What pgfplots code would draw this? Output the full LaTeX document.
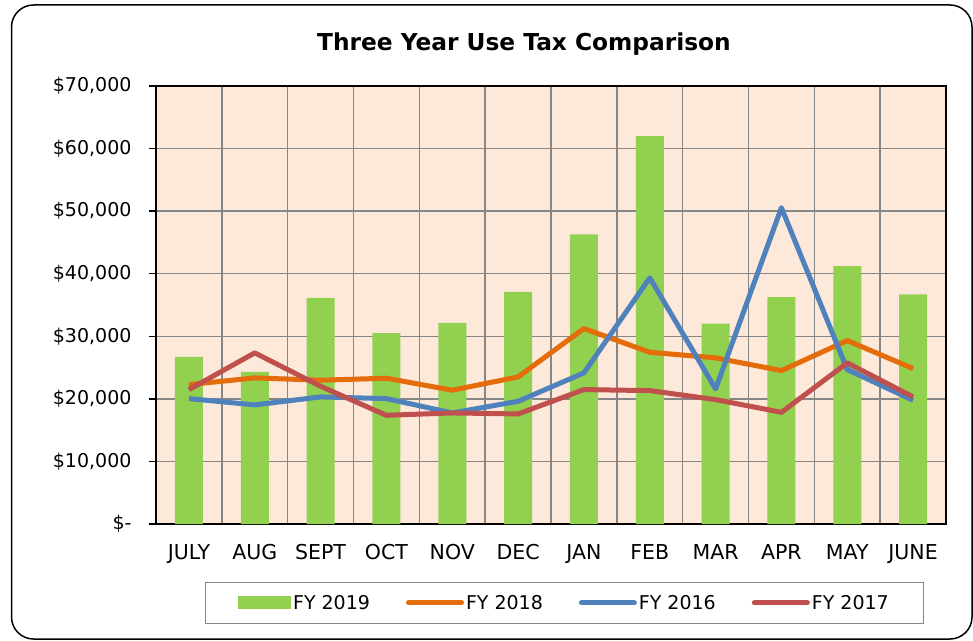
\documentclass[border=0pt]{standalone}
\usepackage{fontspec}
\setmainfont{DejaVu Sans}
\usepackage{pgfplots}
\pgfplotsset{compat=1.18}
\definecolor{bg}{HTML}{FDE9D9}
\definecolor{cgreen}{HTML}{92D050}
\definecolor{corange}{HTML}{E46C0A}
\definecolor{cblue}{HTML}{4F81BD}
\definecolor{cred}{HTML}{C0504D}
\definecolor{cgrid}{RGB}{134,134,134}
\begin{document}
\begin{tikzpicture}[x=1pt,y=1pt]
\path[use as bounding box] (0,0) rectangle (973,640);
\draw[line width=1.5pt, rounded corners=22pt] (11.5,1) rectangle (972,635);
\node[font=\fontsize{23.3}{26}\selectfont\bfseries] at (524,596) {Three Year Use Tax Comparison};
\begin{axis}[
  at={(156pt,116pt)}, anchor=south west,
  scale only axis, width=790pt, height=438pt,
  xmin=-0.5, xmax=11.5, ymin=0, ymax=70000,
  axis background/.style={fill=bg},
  axis line style={line width=2.5pt, black},
  tick pos=left, tick align=outside,
  xtick={0,...,11},
  xticklabels={JULY,AUG,SEPT,OCT,NOV,DEC,JAN,FEB,MAR,APR,MAY,JUNE},
  minor xtick={-0.5,0.5,...,11.5},
  xtick style={draw=none},
  minor tick length=7pt, major tick length=7pt,
  minor tick style={line width=1.5pt, black},
  ytick style={line width=1.5pt, black},
  ytick={0,10000,...,70000},
  yticklabels={{\$-\hspace{14pt}},{\$10,000},{\$20,000},{\$30,000},{\$40,000},{\$50,000},{\$60,000},{\$70,000}},
  scaled y ticks=false,
  yticklabel style={xshift=-14pt, font=\fontsize{19}{22}\selectfont},
  xticklabel style={yshift=-10pt, font=\fontsize{20.5}{24}\selectfont},
  ymajorgrids=true, xminorgrids=true, xmajorgrids=false,
  major grid style={cgrid, line width=1.5pt},
  minor grid style={cgrid, line width=1.5pt},
  legend columns=4,
  legend style={at={(0.517,-0.180)}, anchor=center, draw=cgrid, line width=1pt,
    font=\fontsize{19}{22}\selectfont, inner xsep=33pt, inner ysep=10.5pt,
    /tikz/every even column/.append style={column sep=34pt}},
  legend cell align=left,
]
\addplot[ybar, bar width=28pt, fill=cgreen, draw=none,
  legend image code/.code={\fill[cgreen] (0pt,-6.5pt) rectangle (53pt,6.5pt);}]
  coordinates {(0,26700) (1,24300) (2,36150) (3,30500) (4,32150) (5,37100) (6,46280) (7,62000) (8,32040) (9,36250) (10,41210) (11,36680)};
\addlegendentry{FY 2019}
\addplot[corange, line width=5pt, line join=round, mark=none,
  legend image code/.code={\draw[corange,line width=5pt,line cap=round] (0pt,0pt) -- (53pt,0pt);}]
  coordinates {(0,22280) (1,23350) (2,22980) (3,23300) (4,21380) (5,23510) (6,31240) (7,27450) (8,26550) (9,24520) (10,29320) (11,24840)};
\addlegendentry{FY 2018}
\addplot[cblue, line width=5pt, line join=round, mark=none,
  legend image code/.code={\draw[cblue,line width=5pt,line cap=round] (0pt,0pt) -- (53pt,0pt);}]
  coordinates {(0,20040) (1,19030) (2,20310) (3,20040) (4,17750) (5,19610) (6,24150) (7,39350) (8,21590) (9,50550) (10,24680) (11,19770)};
\addlegendentry{FY 2016}
\addplot[cred, line width=5pt, line join=round, mark=none,
  legend image code/.code={\draw[cred,line width=5pt,line cap=round] (0pt,0pt) -- (53pt,0pt);}]
  coordinates {(0,21480) (1,27350) (2,22010) (3,17370) (4,17750) (5,17590) (6,21480) (7,21320) (8,19880) (9,17850) (10,25750) (11,20310)};
\addlegendentry{FY 2017\hspace{-6pt}}
\end{axis}
\end{tikzpicture}
\end{document}
